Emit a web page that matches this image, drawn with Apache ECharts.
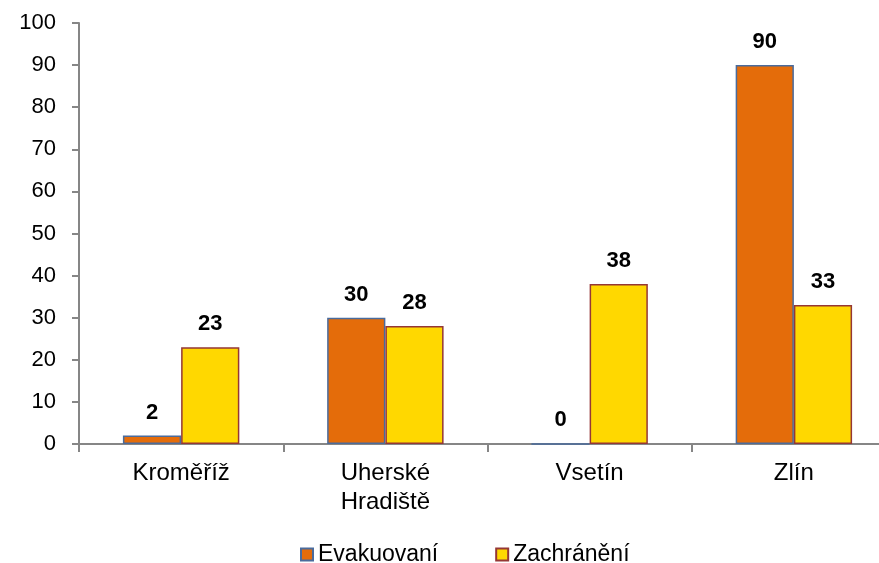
<!DOCTYPE html>
<html><head><meta charset="utf-8">
<script src="https://cdn.jsdelivr.net/npm/echarts@6/dist/echarts.min.js"></script>
<style>html,body{margin:0;padding:0;background:#fff;overflow:hidden;width:879px;height:563px}#c{width:900px;height:563px}</style>
</head><body><div id="c"></div>
<script>
const categories = ['Kroměříž', 'Uherské\nHradiště', 'Vsetín', 'Zlín'];
const evakuovani = [2, 30, 0, 90];
const zachraneni = [23, 28, 38, 33];
const seriesNames = ['Evakuovaní', 'Zachránění'];

const chart = echarts.init(document.getElementById('c'));
const font = 'Liberation Sans, Arial, sans-serif';
const lbl = {show: true, position: 'top', distance: 12, fontFamily: font, fontSize: 22, fontWeight: 'bold', color: '#000'};
chart.setOption({
  animation: false,
  grid: {left: 79, top: 23, height: 421, width: 817, containLabel: false},
  legend: {
    top: 538, left: 295, itemWidth: 12, itemHeight: 12, itemGap: 57,
    icon: 'rect',
    textStyle: {fontFamily: font, fontSize: 23, color: '#000'},
    data: seriesNames
  },
  xAxis: {
    type: 'category', data: categories,
    axisLine: {lineStyle: {color: '#868686', width: 2}},
    axisTick: {show: true, length: 8, lineStyle: {color: '#868686', width: 2}},
    axisLabel: {fontFamily: font, fontSize: 24, color: '#000', margin: 15, lineHeight: 29}
  },
  yAxis: {
    type: 'value', min: 0, max: 100, interval: 10,
    axisLine: {show: true, lineStyle: {color: '#868686', width: 2}},
    axisTick: {show: true, length: 7, lineStyle: {color: '#868686', width: 2}},
    splitLine: {show: false},
    axisLabel: {fontFamily: font, fontSize: 22, color: '#000', margin: 23}
  },
  series: [
    {name: seriesNames[0], type: 'bar', data: evakuovani, barGap: '0%', barCategoryGap: '43%',
     itemStyle: {color: '#E46C0A', borderColor: '#4A6B9C', borderWidth: 1.5}, label: lbl},
    {name: seriesNames[1], type: 'bar', data: zachraneni,
     itemStyle: {color: '#FFD800', borderColor: '#953735', borderWidth: 1.5}, label: lbl}
  ]
});
</script></body></html>
